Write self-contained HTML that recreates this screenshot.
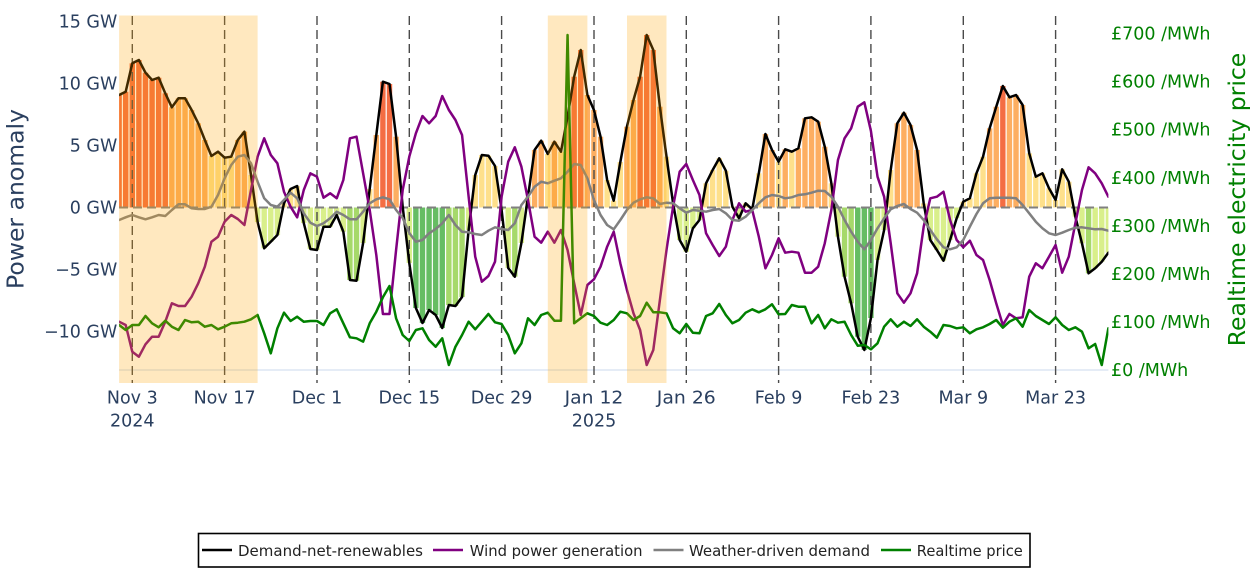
<!DOCTYPE html>
<html>
<head>
<meta charset="utf-8">
<style>
  html, body { margin: 0; padding: 0; background: #fff; }
  svg { display: block; }
  text { font-family: "DejaVu Sans", "Liberation Sans", sans-serif; }
</style>
</head>
<body>
<svg width="1256" height="578" viewBox="0 0 1256 578" xmlns="http://www.w3.org/2000/svg">
  <defs>
    <clipPath id="plot"><rect x="119.1" y="15" width="989.3" height="368"/></clipPath>
  </defs>
  <rect x="0" y="0" width="1256" height="578" fill="#fff"/>

  <g clip-path="url(#plot)">
    <line x1="119" y1="370" x2="1109" y2="370" stroke="#E5ECF6" stroke-width="2"/>

    <g transform="translate(119.1 0) scale(6.595 1)">
      <g fill="#F46D43">
        <rect x="-0.41" y="95" width="0.82" height="112.5"/>
        <rect x="0.59" y="91.7" width="0.82" height="115.8"/>
        <rect x="1.59" y="63.3" width="0.82" height="144.2"/>
        <rect x="2.59" y="60" width="0.82" height="147.5"/>
        <rect x="3.59" y="72.7" width="0.82" height="134.8"/>
        <rect x="4.59" y="80" width="0.82" height="127.5"/>
        <rect x="5.59" y="77.7" width="0.82" height="129.8"/>
        <rect x="6.59" y="93.3" width="0.82" height="114.2"/>
        <rect x="39.59" y="81.7" width="0.82" height="125.8"/>
        <rect x="40.59" y="84" width="0.82" height="123.5"/>
        <rect x="68.59" y="76.7" width="0.82" height="130.8"/>
        <rect x="69.59" y="50" width="0.82" height="157.5"/>
        <rect x="78.59" y="76.7" width="0.82" height="130.8"/>
        <rect x="79.59" y="35" width="0.82" height="172.5"/>
        <rect x="80.59" y="50" width="0.82" height="157.5"/>
        <rect x="133.59" y="86" width="0.82" height="121.5"/>
      </g>
      <g fill="#FDAE61">
        <rect x="7.59" y="107.3" width="0.82" height="100.2"/>
        <rect x="8.59" y="98.3" width="0.82" height="109.2"/>
        <rect x="9.59" y="98.3" width="0.82" height="109.2"/>
        <rect x="10.59" y="110" width="0.82" height="97.5"/>
        <rect x="11.59" y="123.3" width="0.82" height="84.2"/>
        <rect x="12.59" y="140" width="0.82" height="67.5"/>
        <rect x="17.59" y="140" width="0.82" height="67.5"/>
        <rect x="18.59" y="131.7" width="0.82" height="75.8"/>
        <rect x="38.59" y="135" width="0.82" height="72.5"/>
        <rect x="41.59" y="136.7" width="0.82" height="70.8"/>
        <rect x="62.59" y="150" width="0.82" height="57.5"/>
        <rect x="63.59" y="140.7" width="0.82" height="66.8"/>
        <rect x="65.59" y="141.7" width="0.82" height="65.8"/>
        <rect x="67.59" y="116.7" width="0.82" height="90.8"/>
        <rect x="70.59" y="95" width="0.82" height="112.5"/>
        <rect x="71.59" y="110" width="0.82" height="97.5"/>
        <rect x="72.59" y="136.7" width="0.82" height="70.8"/>
        <rect x="76.59" y="126.7" width="0.82" height="80.8"/>
        <rect x="77.59" y="100" width="0.82" height="107.5"/>
        <rect x="81.59" y="106.7" width="0.82" height="100.8"/>
        <rect x="97.59" y="134" width="0.82" height="73.5"/>
        <rect x="98.59" y="150" width="0.82" height="57.5"/>
        <rect x="100.59" y="149.3" width="0.82" height="58.2"/>
        <rect x="102.59" y="148.3" width="0.82" height="59.2"/>
        <rect x="103.59" y="118.3" width="0.82" height="89.2"/>
        <rect x="104.59" y="117.3" width="0.82" height="90.2"/>
        <rect x="105.59" y="121.7" width="0.82" height="85.8"/>
        <rect x="106.59" y="146.7" width="0.82" height="60.8"/>
        <rect x="117.59" y="123.3" width="0.82" height="84.2"/>
        <rect x="118.59" y="112.7" width="0.82" height="94.8"/>
        <rect x="119.59" y="125" width="0.82" height="82.5"/>
        <rect x="120.59" y="150" width="0.82" height="57.5"/>
        <rect x="131.59" y="128.3" width="0.82" height="79.2"/>
        <rect x="132.59" y="106.7" width="0.82" height="100.8"/>
        <rect x="134.59" y="97.3" width="0.82" height="110.2"/>
        <rect x="135.59" y="95" width="0.82" height="112.5"/>
        <rect x="136.59" y="105" width="0.82" height="102.5"/>
      </g>
      <g fill="#FEE08B">
        <rect x="13.59" y="156" width="0.82" height="51.5"/>
        <rect x="14.59" y="151.7" width="0.82" height="55.8"/>
        <rect x="15.59" y="157.7" width="0.82" height="49.8"/>
        <rect x="16.59" y="156.7" width="0.82" height="50.8"/>
        <rect x="19.59" y="175" width="0.82" height="32.5"/>
        <rect x="24.59" y="203.3" width="0.82" height="4.2"/>
        <rect x="25.59" y="189" width="0.82" height="18.5"/>
        <rect x="26.59" y="186" width="0.82" height="21.5"/>
        <rect x="37.59" y="189" width="0.82" height="18.5"/>
        <rect x="42.59" y="206.7" width="0.82" height="0.8"/>
        <rect x="53.59" y="175" width="0.82" height="32.5"/>
        <rect x="54.59" y="155" width="0.82" height="52.5"/>
        <rect x="55.59" y="155.7" width="0.82" height="51.8"/>
        <rect x="56.59" y="166" width="0.82" height="41.5"/>
        <rect x="61.59" y="196.7" width="0.82" height="10.8"/>
        <rect x="64.59" y="154" width="0.82" height="53.5"/>
        <rect x="66.59" y="151.7" width="0.82" height="55.8"/>
        <rect x="73.59" y="180" width="0.82" height="27.5"/>
        <rect x="74.59" y="200.7" width="0.82" height="6.8"/>
        <rect x="75.59" y="162" width="0.82" height="45.5"/>
        <rect x="82.59" y="156.7" width="0.82" height="50.8"/>
        <rect x="83.59" y="203.3" width="0.82" height="4.2"/>
        <rect x="88.59" y="183.3" width="0.82" height="24.2"/>
        <rect x="89.59" y="170" width="0.82" height="37.5"/>
        <rect x="90.59" y="158.3" width="0.82" height="49.2"/>
        <rect x="91.59" y="170.7" width="0.82" height="36.8"/>
        <rect x="92.59" y="206.7" width="0.82" height="0.8"/>
        <rect x="94.59" y="203.3" width="0.82" height="4.2"/>
        <rect x="96.59" y="173.3" width="0.82" height="34.2"/>
        <rect x="99.59" y="161.7" width="0.82" height="45.8"/>
        <rect x="101.59" y="151.7" width="0.82" height="55.8"/>
        <rect x="107.59" y="183.3" width="0.82" height="24.2"/>
        <rect x="116.59" y="170" width="0.82" height="37.5"/>
        <rect x="121.59" y="203.3" width="0.82" height="4.2"/>
        <rect x="127.59" y="201.7" width="0.82" height="5.8"/>
        <rect x="128.59" y="198.3" width="0.82" height="9.2"/>
        <rect x="129.59" y="173.3" width="0.82" height="34.2"/>
        <rect x="130.59" y="156.7" width="0.82" height="50.8"/>
        <rect x="137.59" y="153.3" width="0.82" height="54.2"/>
        <rect x="138.59" y="176.7" width="0.82" height="30.8"/>
        <rect x="139.59" y="173.3" width="0.82" height="34.2"/>
        <rect x="140.59" y="188.3" width="0.82" height="19.2"/>
        <rect x="141.59" y="200" width="0.82" height="7.5"/>
        <rect x="142.59" y="169.3" width="0.82" height="38.2"/>
        <rect x="143.59" y="181.7" width="0.82" height="25.8"/>
      </g>
      <g fill="#D9EF8B">
        <rect x="20.59" y="207.5" width="0.82" height="14.5"/>
        <rect x="21.59" y="207.5" width="0.82" height="40.8"/>
        <rect x="22.59" y="207.5" width="0.82" height="34.2"/>
        <rect x="23.59" y="207.5" width="0.82" height="27.5"/>
        <rect x="27.59" y="207.5" width="0.82" height="15.5"/>
        <rect x="28.59" y="207.5" width="0.82" height="41.5"/>
        <rect x="29.59" y="207.5" width="0.82" height="42.5"/>
        <rect x="30.59" y="207.5" width="0.82" height="19.2"/>
        <rect x="31.59" y="207.5" width="0.82" height="19.2"/>
        <rect x="32.59" y="207.5" width="0.82" height="7.5"/>
        <rect x="33.59" y="207.5" width="0.82" height="24.2"/>
        <rect x="36.59" y="207.5" width="0.82" height="35.5"/>
        <rect x="43.59" y="207.5" width="0.82" height="55.5"/>
        <rect x="52.59" y="207.5" width="0.82" height="22.5"/>
        <rect x="57.59" y="207.5" width="0.82" height="2.5"/>
        <rect x="58.59" y="207.5" width="0.82" height="60.5"/>
        <rect x="60.59" y="207.5" width="0.82" height="35.5"/>
        <rect x="84.59" y="207.5" width="0.82" height="32.5"/>
        <rect x="85.59" y="207.5" width="0.82" height="44.2"/>
        <rect x="86.59" y="207.5" width="0.82" height="20.8"/>
        <rect x="87.59" y="207.5" width="0.82" height="12.5"/>
        <rect x="93.59" y="207.5" width="0.82" height="10.8"/>
        <rect x="95.59" y="207.5" width="0.82" height="1.8"/>
        <rect x="108.59" y="207.5" width="0.82" height="29.2"/>
        <rect x="114.59" y="207.5" width="0.82" height="52.5"/>
        <rect x="115.59" y="207.5" width="0.82" height="22.5"/>
        <rect x="122.59" y="207.5" width="0.82" height="32.5"/>
        <rect x="123.59" y="207.5" width="0.82" height="42.5"/>
        <rect x="124.59" y="207.5" width="0.82" height="53.2"/>
        <rect x="125.59" y="207.5" width="0.82" height="32.5"/>
        <rect x="126.59" y="207.5" width="0.82" height="10.8"/>
        <rect x="144.59" y="207.5" width="0.82" height="9.2"/>
        <rect x="145.59" y="207.5" width="0.82" height="35.8"/>
        <rect x="147.59" y="207.5" width="0.82" height="60.8"/>
        <rect x="148.59" y="207.5" width="0.82" height="54.2"/>
        <rect x="149.59" y="207.5" width="0.82" height="45.2"/>
      </g>
      <g fill="#A6D96A">
        <rect x="34.59" y="207.5" width="0.82" height="72.5"/>
        <rect x="35.59" y="207.5" width="0.82" height="73.2"/>
        <rect x="49.59" y="207.5" width="0.82" height="97.5"/>
        <rect x="50.59" y="207.5" width="0.82" height="98.5"/>
        <rect x="51.59" y="207.5" width="0.82" height="89.5"/>
        <rect x="59.59" y="207.5" width="0.82" height="69.2"/>
        <rect x="109.59" y="207.5" width="0.82" height="69.2"/>
        <rect x="110.59" y="207.5" width="0.82" height="95.8"/>
        <rect x="146.59" y="207.5" width="0.82" height="65.8"/>
      </g>
      <g fill="#66BD63">
        <rect x="44.59" y="207.5" width="0.82" height="100.5"/>
        <rect x="45.59" y="207.5" width="0.82" height="115.5"/>
        <rect x="46.59" y="207.5" width="0.82" height="102.5"/>
        <rect x="47.59" y="207.5" width="0.82" height="107.5"/>
        <rect x="48.59" y="207.5" width="0.82" height="120.5"/>
        <rect x="111.59" y="207.5" width="0.82" height="129.2"/>
        <rect x="112.59" y="207.5" width="0.82" height="142.5"/>
        <rect x="113.59" y="207.5" width="0.82" height="110.5"/>
      </g>
    </g>

    <g stroke="#4a4a4a" stroke-width="1.4" stroke-dasharray="9 5">
      <line x1="132.3" y1="16" x2="132.3" y2="383"/>
      <line x1="224.6" y1="16" x2="224.6" y2="383"/>
      <line x1="317" y1="16" x2="317" y2="383"/>
      <line x1="409.3" y1="16" x2="409.3" y2="383"/>
      <line x1="501.6" y1="16" x2="501.6" y2="383"/>
      <line x1="594" y1="16" x2="594" y2="383"/>
      <line x1="686.3" y1="16" x2="686.3" y2="383"/>
      <line x1="778.6" y1="16" x2="778.6" y2="383"/>
      <line x1="870.9" y1="16" x2="870.9" y2="383"/>
      <line x1="963.3" y1="16" x2="963.3" y2="383"/>
      <line x1="1055.6" y1="16" x2="1055.6" y2="383"/>
    </g>
    <line x1="119" y1="207.5" x2="1109" y2="207.5" stroke="#808080" stroke-width="2" stroke-dasharray="9 5"/>

    <g transform="translate(119.1 0) scale(6.595 1)" fill="none" stroke-width="2.5" stroke-linejoin="round" stroke-linecap="round">
      <polyline vector-effect="non-scaling-stroke" stroke="#000000" points="0,95 1,91.7 2,63.3 3,60 4,72.7 5,80 6,77.7 7,93.3 8,107.3 9,98.3 10,98.3 11,110 12,123.3 13,140 14,156 15,151.7 16,157.7 17,156.7 18,140 19,131.7 20,175 21,222 22,248.3 23,241.7 24,235 25,203.3 26,189 27,186 28,223 29,249 30,250 31,226.7 32,226.7 33,215 34,231.7 35,280 36,280.7 37,243 38,189 39,135 40,81.7 41,84 42,136.7 43,206.7 44,263 45,308 46,323 47,310 48,315 49,328 50,305 51,306 52,297 53,230 54,175 55,155 56,155.7 57,166 58,210 59,268 60,276.7 61,243 62,196.7 63,150 64,140.7 65,154 66,141.7 67,151.7 68,116.7 69,76.7 70,50 71,95 72,110 73,136.7 74,180 75,200.7 76,162 77,126.7 78,100 79,76.7 80,35 81,50 82,106.7 83,156.7 84,203.3 85,240 86,251.7 87,228.3 88,220 89,183.3 90,170 91,158.3 92,170.7 93,206.7 94,218.3 95,203.3 96,209.3 97,173.3 98,134 99,150 100,161.7 101,149.3 102,151.7 103,148.3 104,118.3 105,117.3 106,121.7 107,146.7 108,183.3 109,236.7 110,276.7 111,303.3 112,336.7 113,350 114,318 115,260 116,230 117,170 118,123.3 119,112.7 120,125 121,150 122,203.3 123,240 124,250 125,260.7 126,240 127,218.3 128,201.7 129,198.3 130,173.3 131,156.7 132,128.3 133,106.7 134,86 135,97.3 136,95 137,105 138,153.3 139,176.7 140,173.3 141,188.3 142,200 143,169.3 144,181.7 145,216.7 146,243.3 147,273.3 148,268.3 149,261.7 150,252.7"/>
      <polyline vector-effect="non-scaling-stroke" stroke="#800080" points="0,321.7 1,325 2,351.7 3,356.7 4,344.3 5,336.7 6,336.7 7,321.7 8,303.3 9,306 10,306 11,296.7 12,283.3 13,266.7 14,241.7 15,236.7 16,221.7 17,215 18,219 19,225 20,190 21,156.7 22,138.3 23,155 24,163.3 25,191.7 26,206.7 27,217.3 28,190 29,173.3 30,176.7 31,197.7 32,193.3 33,198.3 34,180 35,138.3 36,136.7 37,173.3 38,210 39,255 40,314 41,314 42,250 43,190 44,156.7 45,133.3 46,116 47,123.3 48,116 49,96 50,110 51,120 52,135 53,196.7 54,256.7 55,281.7 56,276 57,261.7 58,196.7 59,161.7 60,147.3 61,166.7 62,200 63,236.7 64,242.7 65,231.7 66,242.7 67,230 68,250 69,283.3 70,315 71,285 72,279.3 73,266.7 74,246.7 75,231.7 76,263.3 77,290 78,313.3 79,330 80,365 81,350 82,300 83,250 84,206.7 85,171.7 86,164 87,180 88,195 89,233.3 90,245 91,256 92,246.7 93,220 94,203.3 95,211.7 96,210 97,236.7 98,268.3 99,255 100,238.3 101,252.7 102,251.7 103,252.7 104,272.7 105,272.7 106,266.7 107,243.3 108,210 109,160 110,138.3 111,128.3 112,106.7 113,102.3 114,131 115,176.7 116,196.7 117,243.3 118,293.3 119,302.7 120,293.3 121,273.3 122,226.7 123,198.3 124,196.7 125,191.7 126,220 127,240 128,247.3 129,240.7 130,255 131,260 132,280 133,303.3 134,325 135,314 136,318.3 137,317.3 138,276.7 139,263.3 140,268.3 141,256.7 142,245 143,272.7 144,256.7 145,223.3 146,190 147,167.3 148,173.3 149,183.3 150,196.7"/>
      <polyline vector-effect="non-scaling-stroke" stroke="#808080" points="0,220 1,217.3 2,215 3,217.3 4,219.3 5,217.3 6,215 7,216 8,210 9,204.3 10,204.3 11,208.3 12,209 13,209 14,206.7 15,195 16,178.3 17,165 18,156.7 19,155 20,163.3 21,181.7 22,198.3 23,205 24,206.7 25,200 26,192.7 27,198.3 28,213.3 29,222.7 30,226 31,223.3 32,218.3 33,211.7 34,215 35,219.3 36,219.3 37,211.7 38,203.3 39,199.3 40,197.3 41,199.3 42,210 43,218 44,233 45,241.7 46,240 47,233.3 48,229 49,223.3 50,215 51,225 52,231.7 53,232.3 54,234 55,235 56,230.7 57,227.3 58,229 59,230 60,223.3 61,205 62,196.7 63,186.7 64,181.7 65,183.3 66,180.7 67,178.3 68,171.7 69,164 70,165 71,178.3 72,200 73,215 74,225 75,229.3 76,220 77,210 78,202.7 79,199.3 80,197.3 81,198.3 82,204 83,202.7 84,203.3 85,208.3 86,212.7 87,210 88,210.7 89,211.7 90,210 91,209 92,213.3 93,220 94,220.7 95,216.7 96,210 97,203.3 98,197.3 99,195 100,196 101,198.3 102,197.3 103,195 104,194.3 105,192.7 106,190.7 107,191 108,196.7 109,206.7 110,220 111,231.7 112,241.7 113,249.3 114,240 115,228.3 116,218.3 117,209.3 118,206 119,204 120,209 121,212.7 122,220 123,230 124,239.3 125,247.3 126,249.3 127,247.3 128,240 129,226.7 130,214 131,203.3 132,198.3 133,197.7 134,197.7 135,197.7 136,198.3 137,205 138,213.3 139,221.7 140,228.3 141,233.3 142,235 143,232.7 144,230 145,227.7 146,227.3 147,228.3 148,229.3 149,229 150,230.7"/>
      <polyline vector-effect="non-scaling-stroke" stroke="#008000" points="0,325 1,330 2,325 3,325 4,316 5,323.3 6,327.3 7,320.7 8,326.7 9,330 10,320 11,322.3 12,321.7 13,326.7 14,325 15,329.3 16,326.7 17,323.3 18,322.7 19,321.7 20,319.3 21,315 22,333.3 23,353.3 24,328.3 25,312.7 26,321 27,316.7 28,321.7 29,321 30,321 31,325 32,313.3 33,309.3 34,323.3 35,337.3 36,338.3 37,341.7 38,323.3 39,311.7 40,297.3 41,286 42,318.3 43,335 44,341 45,330 46,328.3 47,340 48,346.7 49,338.3 50,365 51,346.7 52,335 53,321.7 54,329.3 55,321.7 56,314 57,322.3 58,324 59,335 60,353.3 61,343.3 62,318.3 63,325 64,315 65,312.7 66,320.7 67,320.7 68,35 69,323.3 70,318.3 71,313.3 72,316 73,322.7 74,325 75,320 76,311.7 77,313.3 78,320 79,316 80,302.7 81,312.3 82,312.3 83,313.3 84,328.3 85,333.3 86,324 87,332.7 88,333.3 89,316 90,313.3 91,304 92,315 93,323.3 94,320 95,312.7 96,309.3 97,312.3 98,309.3 99,304.3 100,314.3 101,314 102,305 103,306.7 104,306.7 105,323.3 106,315 107,328.3 108,319.3 109,322.7 110,321.7 111,335 112,345.7 113,345 114,349.3 115,343.3 116,326.7 117,319.3 118,326.7 119,321.7 120,326 121,319.3 122,326.7 123,331.7 124,337.7 125,325 126,326 127,328.3 128,327.3 129,333.3 130,329.3 131,327.3 132,324 133,320 134,327.7 135,321.7 136,318.3 137,326.7 138,310 139,316 140,320 141,324 142,317.3 143,325 144,330 145,327.3 146,331.7 147,348.3 148,344 149,365 150,328.3"/>
    </g>

    <g fill="rgb(255,165,0)" fill-opacity="0.25">
      <rect x="119" y="15.5" width="138.6" height="367.5"/>
      <rect x="547.8" y="15.5" width="39.6" height="367.5"/>
      <rect x="627" y="15.5" width="39.5" height="367.5"/>
    </g>
  </g>

  <g fill="#2a3f5f" font-size="17.5" text-anchor="end">
    <text x="117.3" y="27.6">15 GW</text>
    <text x="117.3" y="89.4">10 GW</text>
    <text x="117.3" y="151.4">5 GW</text>
    <text x="117.3" y="213.3">0 GW</text>
    <text x="117.3" y="275.3">−5 GW</text>
    <text x="117.3" y="337.3">−10 GW</text>
  </g>

  <g fill="#008000" font-size="17.5" text-anchor="start">
    <text x="1111" y="39.5">£700 /MWh</text>
    <text x="1111" y="87.6">£600 /MWh</text>
    <text x="1111" y="135.7">£500 /MWh</text>
    <text x="1111" y="183.8">£400 /MWh</text>
    <text x="1111" y="231.9">£300 /MWh</text>
    <text x="1111" y="280">£200 /MWh</text>
    <text x="1111" y="328.1">£100 /MWh</text>
    <text x="1111" y="376.2">£0 /MWh</text>
  </g>

  <g fill="#2a3f5f" font-size="17.5" text-anchor="middle">
    <text x="132.3" y="403.3">Nov 3</text>
    <text x="132.3" y="426.5">2024</text>
    <text x="224.6" y="403.3">Nov 17</text>
    <text x="317" y="403.3">Dec 1</text>
    <text x="409.3" y="403.3">Dec 15</text>
    <text x="501.6" y="403.3">Dec 29</text>
    <text x="594" y="403.3" textLength="58.7" lengthAdjust="spacingAndGlyphs">Jan 12</text>
    <text x="594" y="426.5">2025</text>
    <text x="686.3" y="403.3" textLength="59" lengthAdjust="spacingAndGlyphs">Jan 26</text>
    <text x="778.6" y="403.3">Feb 9</text>
    <text x="870.9" y="403.3">Feb 23</text>
    <text x="963.3" y="403.3">Mar 9</text>
    <text x="1055.6" y="403.3">Mar 23</text>
  </g>

  <text transform="translate(23.3 199) rotate(-90)" fill="#2a3f5f" font-size="23.5" text-anchor="middle">Power anomaly</text>
  <text transform="translate(1245 199.5) rotate(-90)" fill="#008000" font-size="23.5" text-anchor="middle">Realtime electricity price</text>

  <rect x="198.5" y="533.5" width="831.5" height="33.5" fill="#fff" stroke="#000" stroke-width="1.6"/>
  <g stroke-width="2.5">
    <line x1="202" y1="550" x2="232" y2="550" stroke="#000000"/>
    <line x1="433" y1="550" x2="463" y2="550" stroke="#800080"/>
    <line x1="653.5" y1="550" x2="683.5" y2="550" stroke="#808080"/>
    <line x1="881" y1="550" x2="911" y2="550" stroke="#008000"/>
  </g>
  <g fill="#222" font-size="15">
    <text x="238" y="556" textLength="185" lengthAdjust="spacingAndGlyphs">Demand-net-renewables</text>
    <text x="469.8" y="556" textLength="172.7" lengthAdjust="spacingAndGlyphs">Wind power generation</text>
    <text x="689" y="556" textLength="181" lengthAdjust="spacingAndGlyphs">Weather-driven demand</text>
    <text x="916.8" y="556" textLength="106" lengthAdjust="spacingAndGlyphs">Realtime price</text>
  </g>
</svg>
</body>
</html>
